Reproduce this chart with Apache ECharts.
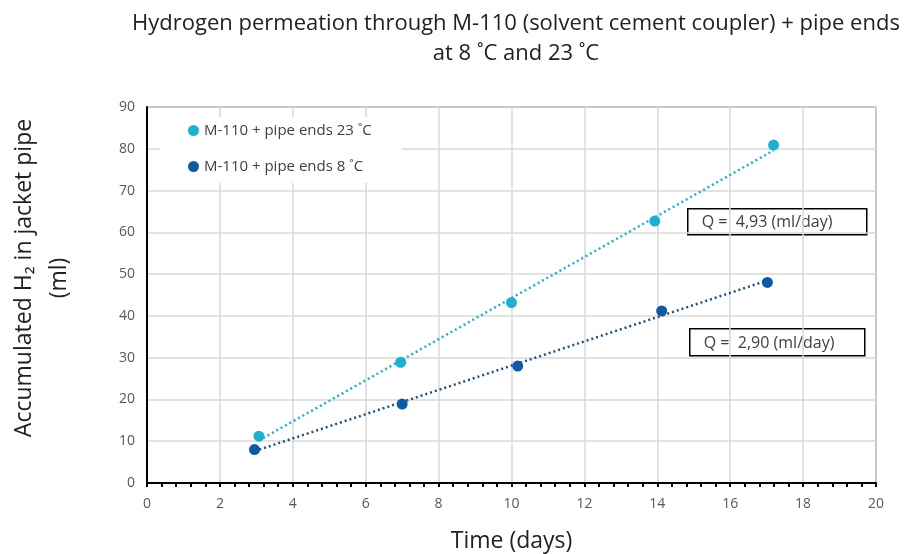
<!DOCTYPE html>
<html>
<head>
<meta charset="utf-8">
<script src="https://cdn.jsdelivr.net/npm/echarts@6/dist/echarts.min.js"></script>
<style>
  html, body { margin: 0; padding: 0; background: #fff; }
  #chart { width: 905px; height: 554px; }
</style>
</head>
<body>
<div id="chart"></div>
<script>
// values
const days23 = [3.07, 6.96, 10.0, 13.93, 17.19];
const vol23 = [11.2, 28.9, 43.2, 62.7, 80.9];
const days8 = [2.95, 7.0, 10.17, 14.12, 17.02];
const vol8 = [8.0, 18.9, 28.0, 41.2, 48.0];
const seriesNames = ["M-110 + pipe ends 23 ˚C", "M-110 + pipe ends 8 ˚C"];
const rateLabels = ["Q =  4,93 (ml/day)", "Q =  2,90 (ml/day)"];

const FONT = "Open Sans";
const cyan = "#1fb0cf";
const navy = "#0e5ba3";

// least squares trendline, like the spreadsheet does
const trend = (xs, ys) => {
  const n = xs.length;
  const mx = xs.reduce((a, b) => a + b, 0) / n;
  const my = ys.reduce((a, b) => a + b, 0) / n;
  let sxy = 0, sxx = 0;
  for (let i = 0; i < n; i++) {
    sxy += (xs[i] - mx) * (ys[i] - my);
    sxx += (xs[i] - mx) * (xs[i] - mx);
  }
  const k = sxy / sxx;
  const b = my - k * mx;
  const x0 = Math.min(...xs), x1 = Math.max(...xs);
  return [[x0, k * x0 + b], [x1, k * x1 + b]];
};

const pairs = (xs, ys) => xs.map((x, i) => [x, ys[i]]);

const rateBox = (left, top, w, h, text) => ({
  type: "group",
  left: left,
  top: top,
  z: 100,
  children: [
    {
      type: "rect",
      shape: { x: 0, y: 0, width: w, height: h },
      style: { fill: "#fff", stroke: "#000", lineWidth: 1.5 }
    },
    {
      type: "text",
      x: 14,
      y: h / 2 + 1,
      style: {
        text: text,
        font: "16px " + FONT,
        fill: "#404040",
        verticalAlign: "middle"
      }
    }
  ]
});

const chart = echarts.init(document.getElementById("chart"));
const option = {
  backgroundColor: "#fff",
  animation: false,
  title: {
    text: "Hydrogen permeation through M-110 (solvent cement coupler) + pipe ends\nat 8 ˚C and 23 ˚C",
    left: 511,
    top: 4,
    textAlign: "center",
    textStyle: {
      fontFamily: FONT,
      fontSize: 22,
      fontWeight: "normal",
      color: "#222",
      lineHeight: 30
    }
  },
  grid: {
    left: 147,
    right: 29,
    top: 107,
    bottom: 71,
    outerBoundsMode: "none",
    containLabel: false,
    show: true,
    borderColor: "#333",
    borderWidth: 1
  },
  legend: {
    left: 160,
    top: 117,
    orient: "vertical",
    backgroundColor: "#fff",
    padding: [6, 30, 9, 28],
    itemGap: 21,
    itemWidth: 11,
    itemHeight: 11,
    itemStyle: { borderWidth: 0 },
    z: 50,
    data: [
      { name: seriesNames[0], icon: "circle" },
      { name: seriesNames[1], icon: "circle" }
    ],
    textStyle: { fontFamily: FONT, fontSize: 15, color: "#404040" }
  },
  xAxis: {
    type: "value",
    min: 0,
    max: 20,
    interval: 2,
    name: "Time (days)",
    nameLocation: "middle",
    nameGap: 47,
    nameTextStyle: { fontFamily: FONT, fontSize: 23, color: "#222" },
    axisLine: { lineStyle: { color: "#000", width: 2 } },
    axisTick: { show: true, length: 4, lineStyle: { color: "#000", width: 2 } },
    minorTick: { show: true, splitNumber: 5, length: 4, lineStyle: { color: "#000", width: 2 } },
    axisLabel: { fontFamily: FONT, fontSize: 14, color: "#595959", margin: 14 },
    splitLine: { show: true, lineStyle: { color: "#d9d9d9", width: 1.5 } }
  },
  yAxis: {
    type: "value",
    min: 0,
    max: 90,
    interval: 10,
    name: "Accumulated H₂ in jacket pipe\n(ml)",
    nameLocation: "middle",
    nameGap: 70,
    nameTextStyle: {
      fontFamily: FONT,
      fontSize: 23,
      color: "#222",
      lineHeight: 35,
      align: "center",
      padding: [0, 0, 0, 34]
    },
    axisLine: { show: true, lineStyle: { color: "#000", width: 2 } },
    axisTick: { show: false },
    axisLabel: { fontFamily: FONT, fontSize: 14, color: "#595959", margin: 12 },
    splitLine: { show: true, lineStyle: { color: "#d9d9d9", width: 1.5 } }
  },
  graphic: [
    rateBox(687, 208, 179, 26, rateLabels[0]),
    rateBox(689, 328, 175, 27, rateLabels[1])
  ],
  series: [
    {
      name: "trend23",
      type: "line",
      data: trend(days23, vol23),
      showSymbol: false,
      silent: true,
      z: 2,
      lineStyle: { color: cyan, width: 2.5, type: [2, 3] }
    },
    {
      name: "trend8",
      type: "line",
      data: trend(days8, vol8),
      showSymbol: false,
      silent: true,
      z: 2,
      lineStyle: { color: "#1e4f86", width: 2.5, type: [2, 3] }
    },
    {
      name: seriesNames[0],
      type: "scatter",
      data: pairs(days23, vol23),
      symbolSize: 11,
      z: 3,
      itemStyle: { color: cyan, opacity: 1 }
    },
    {
      name: seriesNames[1],
      type: "scatter",
      data: pairs(days8, vol8),
      symbolSize: 11,
      z: 3,
      itemStyle: { color: navy, opacity: 1 }
    }
  ]
};
chart.setOption(option);
</script>
</body>
</html>
